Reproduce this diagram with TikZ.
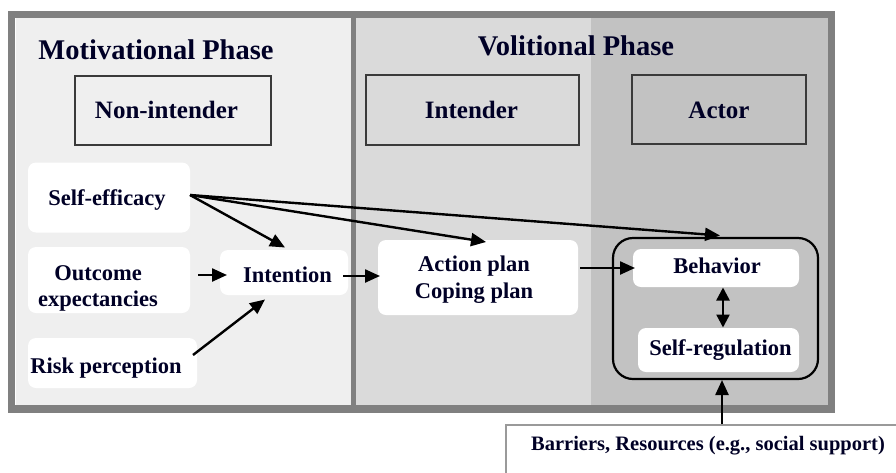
\documentclass[tikz,border=0pt]{standalone}
\usepackage{fontspec}
\setmainfont{Liberation Serif}
\usetikzlibrary{arrows.meta}
\definecolor{pone}{HTML}{EFEFEF}
\definecolor{ptwo}{HTML}{DADADA}
\definecolor{pthree}{HTML}{C2C2C2}
\definecolor{framec}{HTML}{808080}
\definecolor{stagec}{HTML}{3A3A3A}
\definecolor{barc}{HTML}{9A9A9A}
\tikzset{
  wbox/.style={fill=white, draw=none, rounded corners=8pt, inner sep=0pt},
  stagebox/.style={draw=stagec, line width=1.3pt, fill=none, inner sep=0pt},
  lbl/.style={anchor=base, inner sep=0pt, font=\bfseries\fontsize{22.5}{26.5}\selectfont, text=black!85!blue},
  lblc/.style={lbl, align=center},
  ttl/.style={anchor=base, inner sep=0pt, font=\bfseries\fontsize{28.5}{32}\selectfont, text=black!85!blue},
  stl/.style={anchor=base, inner sep=0pt, font=\bfseries\fontsize{25}{29}\selectfont, text=black!85!blue},
  blbl/.style={anchor=base, inner sep=0pt, font=\bfseries\fontsize{20.5}{24}\selectfont, text=black!85!blue},
  arr/.style={line width=2.4pt, -{Triangle[length=15pt,width=13pt]}},
  darr/.style={line width=2.4pt, {Triangle[length=13pt,width=13pt]}-{Triangle[length=13pt,width=13pt]}},
}
\begin{document}
\begin{tikzpicture}[x=1pt,y=-1pt]
\useasboundingbox (0,0) rectangle (896,472);
\clip (0,0) rectangle (896,472);
\fill[white] (0,0) rectangle (896,472);
% panels
\fill[pone] (16,18) rectangle (353,405);
\fill[ptwo] (353,18) rectangle (591,405);
\fill[pthree] (591,18) rectangle (828,405);
% frame and divider
\draw[framec, line width=7.5pt] (11.5,14.5) rectangle (831.5,409);
\draw[framec, line width=5pt] (353.5,18) -- (353.5,405);
% titles
\node[ttl] (tm) at (156,59.3) {Motivational Phase};
\node[ttl] (tv) at (576,55) {Volitional Phase};
% stage boxes
\node[stagebox, minimum width=196pt, minimum height=69pt] (ni) at (173,110.5) {};
\node[stagebox, minimum width=213pt, minimum height=70pt] (in) at (472.5,110) {};
\node[stagebox, minimum width=174pt, minimum height=69pt] (ac) at (719,109.5) {};
\node[stl] (nit) at (166.5,118.3) {Non-intender};
\node[stl] (int) at (471.5,118.3) {Intender};
\node[stl] (act) at (719,118.3) {Actor};
% white boxes
\node[wbox, minimum width=162pt, minimum height=70pt] (se) at (109,197.5) {};
\node[wbox, minimum width=162pt, minimum height=66pt] (oe) at (109,280) {};
\node[wbox, minimum width=169pt, minimum height=50pt] (rp) at (112.5,363) {};
\node[wbox, minimum width=128pt, minimum height=45pt] (it) at (284,272.5) {};
\node[wbox, minimum width=200pt, minimum height=75pt] (ap) at (478,277.5) {};
% rounded container
\node[draw=black, line width=2.2pt, rounded corners=20pt, minimum width=205pt, minimum height=141pt, inner sep=0pt] (rr) at (715.5,308.5) {};
\node[wbox, minimum width=166pt, minimum height=38pt] (bh) at (716,268) {};
\node[wbox, minimum width=161pt, minimum height=44pt] (sr) at (718.5,350) {};
% barriers box
\node[draw=barc, line width=2pt, fill=white, minimum width=400pt, minimum height=60pt, inner sep=0pt, anchor=north west] (ba) at (505,424) {};
% labels
\node[lbl] (set) at (107,205) {Self-efficacy};
\node[lblc] (oet) at (98,306.7) {Outcome\\expectancies};
\node[lbl] (rpt) at (106,373) {Risk perception};
\node[lbl] (itt) at (287.5,282.7) {Intention};
\node[lblc] (apt) at (474,298) {Action plan\\Coping plan};
\node[lbl] (bht) at (717,273) {Behavior};
\node[lbl] (srt) at (720.5,355) {Self-regulation};
\node[blbl] (bat) at (708,450) {Barriers, Resources (e.g., social support)};
% connectors
\coordinate (so) at (190,195);
\coordinate (bhtop) at (720,235.5);
\draw[arr] (so) -- (285,247.5);
\draw[arr] (so) -- (486,242);
\draw[arr] (so) -- (bhtop);
\draw[arr] (oe.east) ++(8,-5) -- (227,275);
\draw[arr] (193,355) -- (265,299.5);
\draw[arr] (343,276) -- (380,276);
\draw[arr] (ap.east) ++(2,-9.5) -- (635,268);
\draw[darr] (723,287.5) -- (723,327.5);
\draw[arr] (722,424) -- (722,380);
\end{tikzpicture}
\end{document}
